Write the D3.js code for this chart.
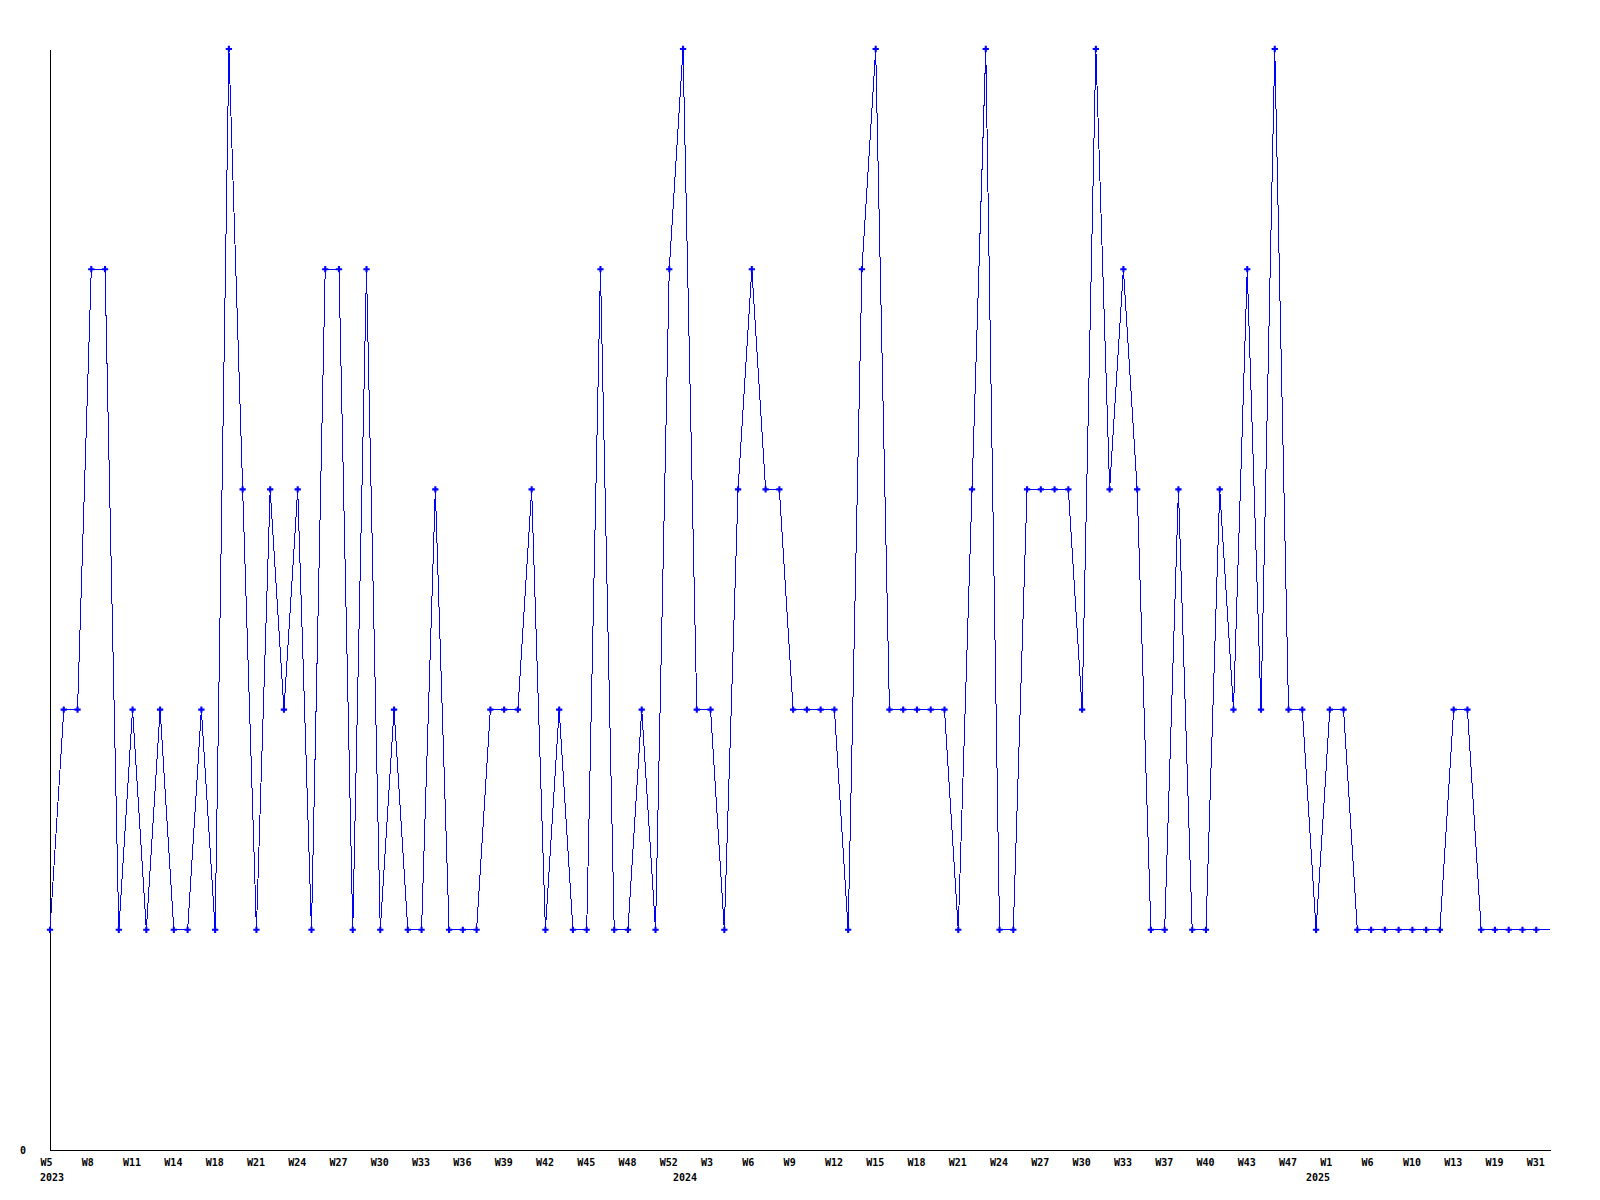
<!DOCTYPE html>
<html>
<head>
<meta charset="utf-8">
<script src="https://cdn.jsdelivr.net/npm/d3@7"></script>
<style>
  body { margin: 0; background: #fff; }
  text { font-family: "DejaVu Sans Mono", monospace; font-size: 10px; font-weight: bold; fill: #000; }
</style>
</head>
<body>
<div id="vis"></div>
<script>
// weekly values, one per data point; the last one is the open (current) week, drawn without a marker
const values = [
    1, 2, 2, 4, 4, 1, 2, 1, 2, 1, 1, 2, 1, 5, 3, 1, 3, 2, 3, 1,
    4, 4, 1, 4, 1, 2, 1, 1, 3, 1, 1, 1, 2, 2, 2, 3, 1, 2, 1, 1,
    4, 1, 1, 2, 1, 4, 5, 2, 2, 1, 3, 4, 3, 3, 2, 2, 2, 2, 1, 4,
    5, 2, 2, 2, 2, 2, 1, 3, 5, 1, 1, 3, 3, 3, 3, 2, 5, 3, 4, 3,
    1, 1, 3, 1, 1, 3, 2, 4, 2, 5, 2, 2, 1, 2, 2, 1, 1, 1, 1, 1,
    1, 1, 2, 2, 1, 1, 1, 1, 1, 1
];

// a label on every third point
const weekLabels = [
    'W5', 'W8', 'W11', 'W14', 'W18', 'W21', 'W24', 'W27', 'W30', 'W33', 'W36', 'W39',
    'W42', 'W45', 'W48', 'W52', 'W3', 'W6', 'W9', 'W12', 'W15', 'W18', 'W21', 'W24',
    'W27', 'W30', 'W33', 'W37', 'W40', 'W43', 'W47', 'W1', 'W6', 'W10', 'W13', 'W19', 'W31'
];

// first point of each year
const yearLabels = ['2023', '2024', '2025'];
const yearStarts = [0, 46, 92];

const margin = {top: 49, right: 50, bottom: 50, left: 50};
const width = 1600 - margin.left - margin.right;
const height = 1200 - margin.top - margin.bottom;

const svg = d3.select('#vis')
    .append('svg')
    .attr('width', 1600)
    .attr('height', 1200)
    .append('g')
    .attr('transform', `translate(${margin.left},${margin.top})`);

const idx = values.map((d, i) => i);

const xScale = d3.scalePoint()
    .domain(idx)
    .range([0, width]);

const yScale = d3.scaleLinear()
    .domain([0, d3.max(values)])
    .range([height, 0]);

// axes
const xAxis = d3.axisBottom(xScale)
    .tickValues(weekLabels.map((d, i) => i * 3))
    .tickFormat((d, i) => weekLabels[i])
    .tickSize(0);

const gx = svg.append('g')
    .attr('transform', `translate(0,${height})`)
    .call(xAxis);
gx.selectAll('text')
    .attr('x', -10)
    .attr('y', 16)
    .attr('dy', null)
    .style('text-anchor', 'start');

const yAxis = d3.axisLeft(yScale)
    .tickValues([0])
    .tickFormat(d3.format('d'))
    .tickSize(0)
    .tickPadding(24);

const gy = svg.append('g').call(yAxis);

svg.selectAll('.domain')
    .attr('stroke', '#000')
    .style('shape-rendering', 'crispEdges');
svg.selectAll('.tick text')
    .attr('font-family', null)
    .attr('font-size', null);

svg.selectAll('.year')
    .data(yearLabels)
    .enter()
    .append('text')
    .attr('class', 'year')
    .attr('x', (d, i) => xScale(yearStarts[i]) - 10)
    .attr('y', height + 31)
    .text(d => d);

// line
const line = d3.line()
    .x((d, i) => xScale(i))
    .y(d => yScale(d));

svg.append('path')
    .datum(values)
    .attr('fill', 'none')
    .attr('stroke', '#0000ff')
    .attr('stroke-width', 1)
    .style('shape-rendering', 'crispEdges')
    .attr('d', line);

// markers
svg.selectAll('.pt')
    .data(values.slice(0, -1))
    .enter()
    .append('path')
    .attr('class', 'pt')
    .attr('d', d3.symbol(d3.symbolCross, 22))
    .attr('transform', (d, i) => `translate(${xScale(i)},${yScale(d)})`)
    .attr('fill', '#0000ff');
</script>
</body>
</html>
